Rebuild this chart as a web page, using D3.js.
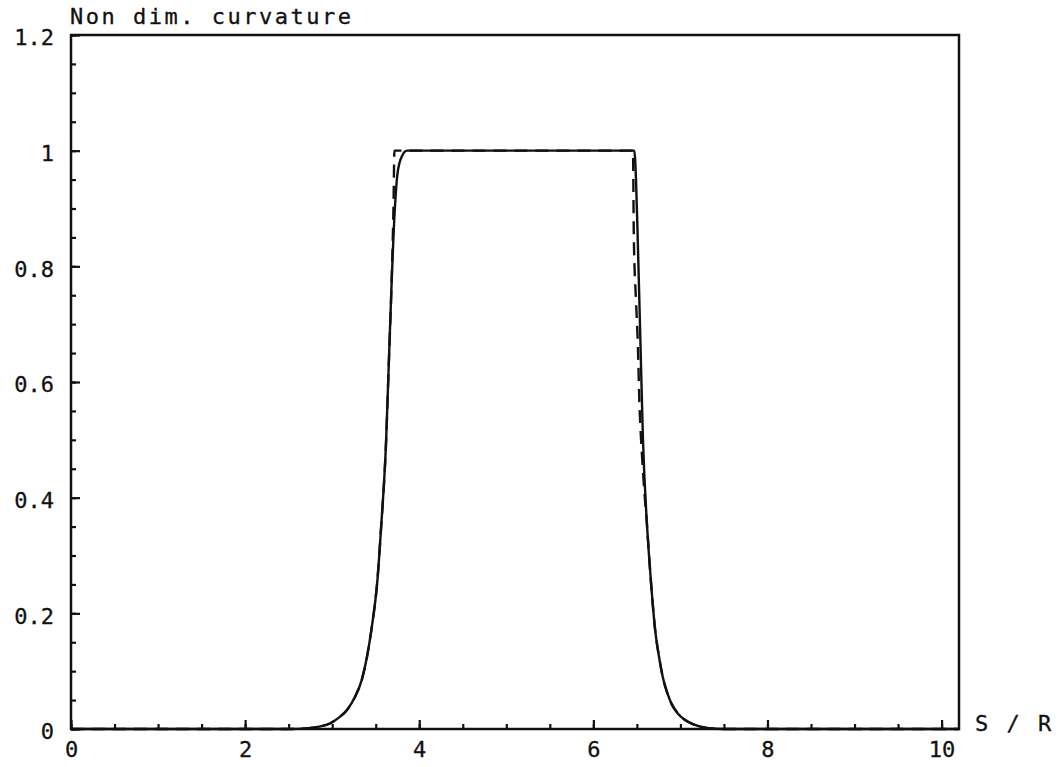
<!DOCTYPE html>
<html>
<head>
<meta charset="utf-8">
<script src="https://cdn.jsdelivr.net/npm/d3@7"></script>
<style>
  body { margin: 0; background: #fff; }
  svg text { font-family: "DejaVu Sans Mono", monospace; fill: #111; stroke: #111; stroke-width: 0.3px; }
  .axis text { font-size: 22px; }
  .label { font-size: 22px; letter-spacing: 2.5px; }
</style>
</head>
<body>
<div id="graphic"></div>
<script>
// solid curve
const solidS = [0, 2.5, 2.7, 2.85, 2.98, 3.08, 3.17, 3.26, 3.34, 3.40, 3.45, 3.52, 3.56, 3.62, 3.65, 3.68, 3.72, 3.75, 3.80, 3.86, 5.0, 6.47, 6.49, 6.51, 6.54, 6.57, 6.62, 6.66, 6.71, 6.76, 6.80, 6.85, 6.90, 6.97, 7.05, 7.15, 7.3, 7.5, 10.2];
const solidK = [0, 0, 0.001, 0.004, 0.01, 0.02, 0.033, 0.055, 0.085, 0.125, 0.171, 0.258, 0.344, 0.50, 0.63, 0.76, 0.90, 0.96, 0.99, 1.0, 1.0, 1.0, 0.95, 0.846, 0.673, 0.50, 0.344, 0.258, 0.171, 0.12, 0.088, 0.062, 0.043, 0.027, 0.016, 0.008, 0.002, 0, 0];

// dashed curve: same as solid except for the sharp corners
const dashedS = [0, 2.5, 2.7, 2.85, 2.98, 3.08, 3.17, 3.26, 3.34, 3.40, 3.45, 3.52, 3.56, 3.62, 3.65, 3.68, 3.705, 3.715, 5.0, 6.455, 6.465, 6.49, 6.51, 6.53, 6.56, 6.62, 6.66, 6.71, 6.76, 6.80, 6.85, 6.90, 6.97, 7.05, 7.15, 7.3, 7.5, 10.2];
const dashedK = [0, 0, 0.001, 0.004, 0.01, 0.02, 0.033, 0.055, 0.085, 0.125, 0.171, 0.258, 0.344, 0.50, 0.63, 0.76, 0.91, 1.0, 1.0, 1.0, 0.85, 0.74, 0.67, 0.56, 0.47, 0.344, 0.258, 0.171, 0.12, 0.088, 0.062, 0.043, 0.027, 0.016, 0.008, 0.002, 0, 0];

const xMajor = [0, 2, 4, 6, 8, 10];
const xMinor = d3.range(0, 10.01, 0.5);
const yMajor = [0, 0.2, 0.4, 0.6, 0.8, 1, 1.2];
const yMinor = d3.range(0, 1.2001, 0.05);

const width = 1062, height = 767;
const margin = {top: 35, right: 103, bottom: 38, left: 71};
const w = width - margin.left - margin.right;
const h = height - margin.top - margin.bottom;

const svg = d3.select('#graphic').append('svg')
  .attr('width', width).attr('height', height)
  .append('g')
  .attr('transform', 'translate(' + margin.left + ',' + margin.top + ')');

const x = d3.scaleLinear().domain([0, 10.2]).range([0, w]);
const y = d3.scaleLinear().domain([0, 1.2]).range([h, 0]);

// minor ticks (inside the frame)
svg.append('g').attr('class', 'axis')
  .attr('transform', 'translate(0,' + h + ')')
  .call(d3.axisBottom(x).tickValues(xMinor).tickSize(-5).tickFormat(''));
svg.append('g').attr('class', 'axis')
  .call(d3.axisLeft(y).tickValues(yMinor).tickSize(-5).tickFormat(''));

// major ticks with labels
svg.append('g').attr('class', 'axis x')
  .attr('transform', 'translate(0,' + h + ')')
  .call(d3.axisBottom(x).tickValues(xMajor).tickSize(-9).tickPadding(12).tickFormat(d3.format('d')));
svg.append('g').attr('class', 'axis y')
  .call(d3.axisLeft(y).tickValues(yMajor).tickSize(-9).tickPadding(17).tickFormat(d => d3.format('')(+d.toFixed(1))))
  .selectAll('text').attr('dy', '0.45em');

svg.selectAll('.axis .domain').remove();
svg.selectAll('.axis line').attr('stroke', '#111').attr('stroke-width', 2.2);

// frame
svg.append('rect')
  .attr('width', w).attr('height', h)
  .attr('fill', 'none').attr('stroke', '#111').attr('stroke-width', 2.5);

const line = d3.line()
  .curve(d3.curveMonotoneX)
  .x(d => x(d[0]))
  .y(d => y(d[1]));

svg.append('path')
  .attr('d', line(d3.zip(dashedS, dashedK)))
  .attr('fill', 'none').attr('stroke', '#111').attr('stroke-width', 2.4)
  .attr('stroke-dasharray', '13,8');

svg.append('path')
  .attr('d', line(d3.zip(solidS, solidK)))
  .attr('fill', 'none').attr('stroke', '#111').attr('stroke-width', 2.4);

// titles
svg.append('text').attr('class', 'label')
  .attr('x', -1).attr('y', -11)
  .text('Non dim. curvature');

svg.append('text').attr('class', 'label')
  .attr('x', w + 16).attr('y', h + 2)
  .text('S / R');
</script>
</body>
</html>
